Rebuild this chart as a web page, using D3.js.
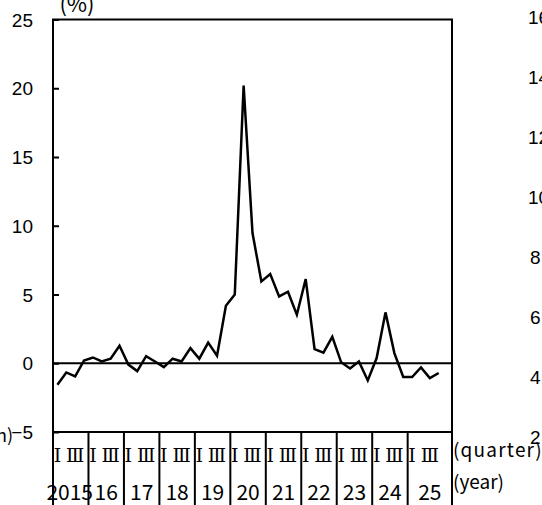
<!DOCTYPE html>
<html>
<head>
<meta charset="utf-8">
<script src="https://cdn.jsdelivr.net/npm/d3@7"></script>
<style>
  html, body { margin: 0; padding: 0; background: #fff; }
  svg { display: block; }
</style>
</head>
<body>
<svg id="chart" width="542" height="505"></svg>
<script>
// ---- data ----
const yearLabels = ["2015","16","17","18","19","20","21","22","23","24","25"];
const quarterLabels = ["Ⅰ","Ⅲ"];
const yTicks = [-5, 0, 5, 10, 15, 20, 25];
const rightTicks = ["16","14","12","10","8","6","4","2"]; // neighbouring chart (cut off)
// quarterly values, 2015 Q1 – 2025 Q4 (%)
const values = [
  -1.56, -0.67, -0.96, 0.20,
   0.42,  0.13,  0.33, 1.27,
  -0.10, -0.57,  0.52, 0.13,
  -0.28,  0.33,  0.13, 1.10,
   0.33,  1.50,  0.55, 4.18,
   5.00, 20.20,  9.47, 5.95,
   6.49,  4.86,  5.20, 3.53,
   6.12,  1.03,  0.77, 1.92,
   0.07, -0.38,  0.13, -1.25,
   0.38,  3.70,  0.74, -1.00,
  -1.00, -0.30, -1.08, -0.71
];
const nQuarters = 45; // axis runs to 2026 Q1

(function () {
const svg = d3.select("#chart");
const W = 542, H = 505;
const pLeft = 53, pRight = 452, pTop = 19.5, pBottom = 432;

const x = d3.scaleLinear().domain([0, nQuarters]).range([pLeft, pRight]);
const y = d3.scaleLinear().domain([-5, 25]).range([pBottom, pTop]);

const numFont = "'Liberation Sans', Arial, sans-serif";
const jpFont = "'Noto Sans CJK JP', 'Noto Sans', sans-serif";
const romanFont = "'DejaVu Serif', 'Liberation Serif', serif";

// y axis with inward ticks
const yAxis = d3.axisLeft(y).tickValues(yTicks).tickSize(-6).tickPadding(20)
  .tickFormat(d3.format("d"));
const gy = svg.append("g").attr("transform", `translate(${pLeft},0)`).call(yAxis);
gy.select(".domain").remove();
gy.selectAll(".tick line").attr("stroke", "#000").attr("stroke-width", 2);
gy.selectAll(".tick text").attr("font-family", numFont).attr("font-size", 19)
  .attr("fill", "#000").attr("dy", "0.35em");

// zero line
svg.append("line")
  .attr("x1", pLeft).attr("x2", pRight).attr("y1", y(0)).attr("y2", y(0))
  .attr("stroke", "#000").attr("stroke-width", 2);

// frame
svg.append("rect")
  .attr("x", pLeft).attr("y", pTop).attr("width", pRight - pLeft).attr("height", pBottom - pTop)
  .attr("fill", "none").attr("stroke", "#000").attr("stroke-width", 2);

// vertical lines: left, year dividers, right, extend to the bottom
const dividers = d3.range(0, yearLabels.length).map(i => i * 4).concat([nQuarters]);
svg.append("g").selectAll("line").data(dividers).join("line")
  .attr("x1", d => x(d)).attr("x2", d => x(d))
  .attr("y1", pBottom).attr("y2", H)
  .attr("stroke", "#000").attr("stroke-width", 2);

// quarter labels
const qData = [];
yearLabels.forEach((yl, i) => {
  qData.push({ q: i * 4 + 0.5, t: quarterLabels[0] });
  qData.push({ q: i * 4 + 2.5, t: quarterLabels[1] });
});
svg.append("g").selectAll("text").data(qData).join("text")
  .attr("x", d => x(d.q)).attr("y", 462)
  .attr("text-anchor", "middle")
  .attr("font-family", romanFont).attr("font-size", 19).attr("fill", "#000")
  .text(d => d.t);

// year labels
svg.append("g").selectAll("text").data(yearLabels).join("text")
  .attr("x", (d, i) => {
    const start = i * 4;
    const end = i === yearLabels.length - 1 ? nQuarters : start + 4;
    return x((start + end) / 2) - (i === 0 ? 1 : 0);
  })
  .attr("y", 500)
  .attr("text-anchor", "middle")
  .attr("font-family", jpFont).attr("font-size", 21).attr("fill", "#000")
  .text(d => d);

// data line
const line = d3.line().x((d, i) => x(i + 0.5)).y(d => y(d));
svg.append("path").datum(values)
  .attr("d", line).attr("fill", "none")
  .attr("stroke", "#000").attr("stroke-width", 2.5).attr("stroke-linejoin", "miter");

// unit labels
svg.append("text").attr("x", 77).attr("y", 12).attr("text-anchor", "middle")
  .attr("font-family", jpFont).attr("font-size", 22).attr("fill", "#000").text("(%)");
svg.append("text").attr("x", 453).attr("y", 457)
  .attr("font-family", jpFont).attr("font-size", 19).attr("letter-spacing", 1.2)
  .attr("fill", "#000").text("(quarter)");
svg.append("text").attr("x", 453).attr("y", 489)
  .attr("font-family", jpFont).attr("font-size", 19).attr("fill", "#000").text("(year)");
svg.append("text").attr("x", 13).attr("y", 442).attr("text-anchor", "end")
  .attr("font-family", jpFont).attr("font-size", 18).attr("fill", "#000").text("(month)");

// neighbouring chart's tick labels (cut at right edge)
svg.append("g").selectAll("text").data(rightTicks).join("text")
  .attr("x", d => d.length > 1 ? 528 : 530)
  .attr("y", (d, i) => 17 + i * 60).attr("dy", "0.35em")
  .attr("font-family", numFont).attr("font-size", 19).attr("fill", "#000")
  .text(d => d);
})();
</script>
</body>
</html>
